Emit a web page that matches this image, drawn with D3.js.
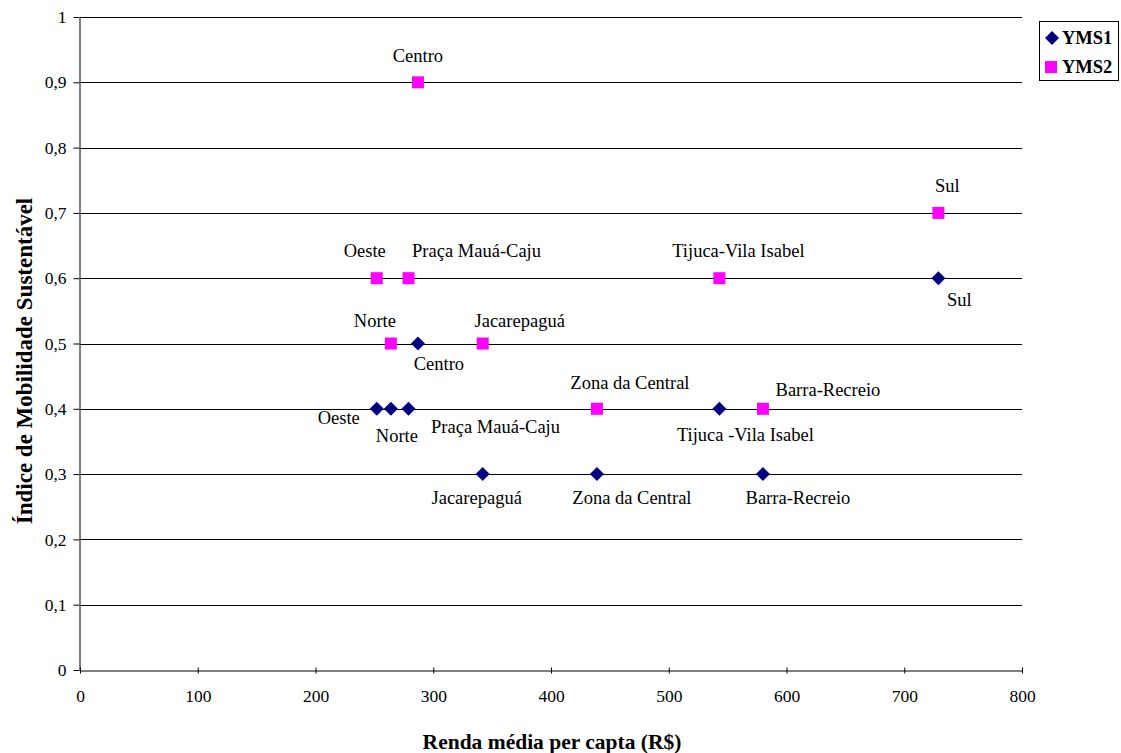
<!DOCTYPE html>
<html><head><meta charset="utf-8">
<script src="https://cdn.jsdelivr.net/npm/d3@7"></script>
</head><body style="margin:0;background:#fff"><svg id="c" width="1121" height="753" style="display:block"></svg>
<script>
const regions = ["Oeste","Norte","Praça Mauá-Caju","Centro","Jacarepaguá","Zona da Central","Tijuca-Vila Isabel","Barra-Recreio","Sul"];
const renda = [252, 264, 279, 287, 342, 439, 543, 580, 729];
const yms1 = [0.4, 0.4, 0.4, 0.5, 0.3, 0.3, 0.4, 0.3, 0.6];
const yms2 = [0.6, 0.5, 0.6, 0.9, 0.5, 0.4, 0.6, 0.4, 0.7];
const labels1 = ["Oeste","Norte","Praça Mauá-Caju","Centro","Jacarepaguá","Zona da Central","Tijuca -Vila Isabel","Barra-Recreio","Sul"];
const labels2 = ["Oeste","Norte","Praça Mauá-Caju","Centro","Jacarepaguá","Zona da Central","Tijuca-Vila Isabel","Barra-Recreio","Sul"];
const xTicks = [0,100,200,300,400,500,600,700,800];
const yTicks = [0,0.1,0.2,0.3,0.4,0.5,0.6,0.7,0.8,0.9,1];
// label placement offsets (layout, px)
const off1 = [[-38,9],[6,27],[87,18],[21,20],[-6,23],[35,23],[26,26],[35,23],[21,21]];
const off2 = [[-12,-28],[-16,-23],[68,-28],[0,-27],[37,-23],[33,-26],[19,-28],[65,-19],[9,-27]];

const FF = "Liberation Serif";
const svg = d3.select("#c");
const L=80, R=1022, T=17, B=670;
const x = d3.scaleLinear().domain([0,800]).range([L,R]);
const y = d3.scaleLinear().domain([0,1]).range([B,T]);

// gridlines
svg.append("g").selectAll("line").data(yTicks.filter(d=>d>0)).join("line")
  .attr("x1",L).attr("x2",R).attr("y1",d=>Math.round(y(d))+0.5).attr("y2",d=>Math.round(y(d))+0.5)
  .attr("stroke","#000").attr("stroke-width",1);

const fmt = d=> String(d).replace(".",",");
const xa = svg.append("g").attr("transform",`translate(0,${B+0.5})`)
  .call(d3.axisBottom(x).tickValues(xTicks).tickSize(6).tickSizeOuter(0).tickFormat(d=>d));
const ya = svg.append("g").attr("transform",`translate(${L-0.5},0)`)
  .call(d3.axisLeft(y).tickValues(yTicks).tickSize(6).tickSizeOuter(0).tickFormat(fmt));
[xa,ya].forEach(a=>{a.attr("font-family",null).attr("font-size",null);
  a.select(".domain").attr("stroke","#000");a.selectAll(".tick line").attr("stroke","#000");
  a.selectAll("text").style("font-family",FF).style("font-size","17.5px").attr("fill","#000");});
xa.selectAll(".tick line").attr("y1",-3).attr("y2",3);
ya.selectAll(".tick line").attr("x1",-6).attr("x2",0);
xa.selectAll("text").attr("y",19);
ya.selectAll("text").attr("x",-13);

// markers
const diamond = s=>`M0,${-s}L${s},0L0,${s}L${-s},0Z`;
svg.append("g").selectAll("path").data(renda).join("path")
  .attr("d",diamond(7)).attr("transform",(d,i)=>`translate(${x(d)},${y(yms1[i])})`).attr("fill","#000080");
svg.append("g").selectAll("rect").data(renda).join("rect")
  .attr("x",d=>x(d)-6).attr("y",(d,i)=>y(yms2[i])-6).attr("width",12).attr("height",12).attr("fill","#ff00ff");

// labels
svg.append("g").selectAll("text").data(renda).join("text")
  .attr("x",(d,i)=>x(d)+off1[i][0]).attr("y",(d,i)=>y(yms1[i])+off1[i][1]).attr("dy","0.35em")
  .attr("text-anchor","middle").style("font-family",FF).style("font-size","18.5px").text((d,i)=>labels1[i]);
svg.append("g").selectAll("text").data(renda).join("text")
  .attr("x",(d,i)=>x(d)+off2[i][0]).attr("y",(d,i)=>y(yms2[i])+off2[i][1]).attr("dy","0.35em")
  .attr("text-anchor","middle").style("font-family",FF).style("font-size","18.5px").text((d,i)=>labels2[i]);

// axis titles
svg.append("text").attr("x",552).attr("y",741).attr("dy","0.35em").attr("text-anchor","middle")
  .style("font-family",FF).style("font-size","21.5px").style("font-weight","bold").text("Renda média per capta (R$)");
svg.append("text").attr("transform",`translate(24,361) rotate(-90)`).attr("dy","0.35em").attr("text-anchor","middle")
  .style("font-family",FF).style("font-size","23px").style("font-weight","bold").text("Índice de Mobilidade Sustentável");

// legend
const lg = svg.append("g");
lg.append("rect").attr("x",1039.5).attr("y",21.5).attr("width",79).attr("height",59).attr("fill","#fff").attr("stroke","#000");
lg.append("path").attr("d",diamond(7)).attr("transform","translate(1052,38)").attr("fill","#000080");
lg.append("rect").attr("x",1045).attr("y",61).attr("width",12).attr("height",12).attr("fill","#ff00ff");
lg.append("text").attr("x",1062).attr("y",38).attr("dy","0.35em").style("font-family",FF).style("font-size","18.5px").style("font-weight","bold").text("YMS1");
lg.append("text").attr("x",1062).attr("y",67).attr("dy","0.35em").style("font-family",FF).style("font-size","18.5px").style("font-weight","bold").text("YMS2");
</script></body></html>
